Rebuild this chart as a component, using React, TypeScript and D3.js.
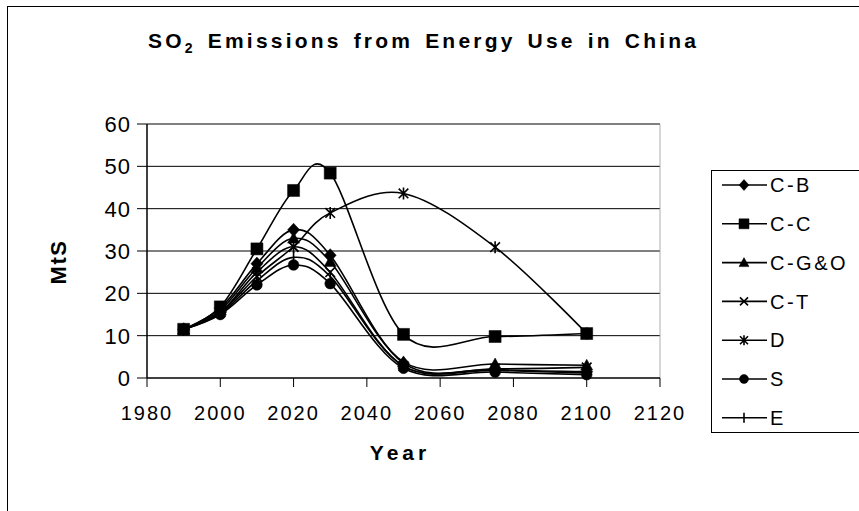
import React from "react";
import * as d3 from "d3";

const years = [1990, 2000, 2010, 2020, 2030, 2050, 2075, 2100];
const seriesNames = ["C-B", "C-C", "C-G&O", "C-T", "D", "S", "E"];
const cB = [11.5, 16.5, 27, 35, 29, 3.5, 2, 1.5];
const cC = [11.5, 16.8, 30.5, 44.3, 48.4, 10.3, 9.8, 10.5];
const cGO = [11.5, 16, 26, 33, 27.5, 3.8, 3.3, 3];
const cT = [11.5, 15.5, 25, 31, 25, 2.8, 2.2, 2.5];
const dS = [11.5, 15.5, 24, 31, 39, 43.6, 30.9, 10.5];
const sS = [11.5, 15, 22, 26.7, 22.3, 2.3, 1.4, 0.8];
const eS = [11.5, 15.2, 23, 28.5, 24, 2.8, 1.8, 1.2];
const seriesValues = [cB, cC, cGO, cT, dS, sS, eS];
const markers = ["diamond", "square", "triangle", "x", "asterisk", "circle", "plus"];
const xTicks = [1980, 2000, 2020, 2040, 2060, 2080, 2100, 2120];
const yTicks = [0, 10, 20, 30, 40, 50, 60];

const FONT = "'Liberation Sans', Arial, Helvetica, sans-serif";

function markerPath(kind: string, s: number): string {
  const h = s / 2;
  const p = d3.path();
  if (kind === "diamond") {
    p.moveTo(0, -h * 1.1); p.lineTo(h, 0); p.lineTo(0, h * 1.1); p.lineTo(-h, 0); p.closePath();
  } else if (kind === "square") {
    p.rect(-h, -h, s, s);
  } else if (kind === "triangle") {
    p.moveTo(0, -h); p.lineTo(h, h * 0.8); p.lineTo(-h, h * 0.8); p.closePath();
  } else if (kind === "circle") {
    p.arc(0, 0, h * 0.9, 0, Math.PI * 2);
  } else if (kind === "x") {
    const a = h * 0.8;
    p.moveTo(-a, -a); p.lineTo(a, a); p.moveTo(a, -a); p.lineTo(-a, a);
  } else if (kind === "asterisk") {
    const a = h * 0.8;
    p.moveTo(-a, -a); p.lineTo(a, a); p.moveTo(a, -a); p.lineTo(-a, a);
    p.moveTo(0, -h); p.lineTo(0, h);
  } else if (kind === "plus") {
    p.moveTo(0, -h); p.lineTo(0, h);
  }
  return p.toString();
}

function Marker({ kind, x, y, s }: { kind: string; x: number; y: number; s: number }) {
  const filled = kind === "diamond" || kind === "square" || kind === "triangle" || kind === "circle";
  return (
    <path
      d={markerPath(kind, s)}
      transform={`translate(${x},${y})`}
      fill={filled ? "#000" : "none"}
      stroke="#000"
      strokeWidth={filled ? 0.5 : 1.6}
    />
  );
}

export default function App() {
  const x = d3.scaleLinear().domain([1980, 2120]).range([147, 660]);
  const y = d3.scaleLinear().domain([0, 60]).range([378, 124]);
  const line = d3
    .line<number>()
    .x((_, i) => x(years[i]))
    .y((v) => y(v))
    .curve(d3.curveCardinal.tension(0));

  const legendX = 711;
  const legendY0 = 185;
  const legendStep = 38.8;

  return (
    <svg
      width={859}
      height={511}
      style={{ position: "absolute", left: 0, top: 0, background: "#fff" }}
      fontFamily={FONT}
    >
      <rect x={0} y={0} width={859} height={511} fill="#fff" />
      <rect x={7.5} y={6.5} width={900} height={600} fill="none" stroke="#000" strokeWidth={1} />

      <text x={148} y={48} fontSize={21} fontWeight="bold" letterSpacing={3.2} wordSpacing={3}>
        SO
        <tspan fontSize={14} dy={5}>2</tspan>
        <tspan dy={-5}> Emissions from Energy Use in China</tspan>
      </text>

      {yTicks.filter((t) => t > 0).map((t) => (
        <line key={"g" + t} x1={x(1980)} x2={x(2120)} y1={y(t)} y2={y(t)} stroke="#000" strokeWidth={1} />
      ))}
      <line x1={x(2120)} x2={x(2120)} y1={y(60)} y2={y(0)} stroke="#999" strokeWidth={0.8} />

      <line x1={x(1980)} x2={x(2120)} y1={y(0)} y2={y(0)} stroke="#000" strokeWidth={1.5} />
      <line x1={x(1980)} x2={x(1980)} y1={y(60)} y2={y(0)} stroke="#000" strokeWidth={1.5} />
      {yTicks.map((t) => (
        <g key={"yt" + t}>
          <line x1={x(1980) - 10} x2={x(1980)} y1={y(t)} y2={y(t)} stroke="#000" strokeWidth={1} />
          <text x={131} y={y(t)} dy="0.36em" textAnchor="end" fontSize={22} letterSpacing={1}>
            {t}
          </text>
        </g>
      ))}
      {xTicks.map((t) => (
        <g key={"xt" + t}>
          <line x1={x(t)} x2={x(t)} y1={y(0)} y2={y(0) + 9} stroke="#000" strokeWidth={1} />
          <text x={x(t)} y={420} textAnchor="middle" fontSize={20} letterSpacing={2}>
            {t}
          </text>
        </g>
      ))}

      <text
        transform={`translate(66,262) rotate(-90)`}
        textAnchor="middle"
        fontSize={22}
        fontWeight="bold"
        letterSpacing={1.5}
      >
        MtS
      </text>
      <text x={400} y={460} textAnchor="middle" fontSize={21} fontWeight="bold" letterSpacing={4}>
        Year
      </text>

      {seriesValues.map((vals, si) => (
        <g key={"s" + si}>
          <path d={line(vals) || ""} fill="none" stroke="#000" strokeWidth={1.6} />
          {vals.map((v, i) => (
            <Marker key={i} kind={markers[si]} x={x(years[i])} y={y(v)} s={12} />
          ))}
        </g>
      ))}

      <rect x={legendX + 0.5} y={170.5} width={300} height={262} fill="#fff" stroke="#000" strokeWidth={1} />
      {seriesNames.map((name, i) => {
        const cy = legendY0 + i * legendStep;
        return (
          <g key={"l" + name}>
            <line x1={722} x2={767} y1={cy} y2={cy} stroke="#000" strokeWidth={1.6} />
            <Marker kind={markers[i]} x={744} y={cy} s={10} />
            <text x={770} y={cy} dy="0.36em" fontSize={20} letterSpacing={2.5}>
              {name}
            </text>
          </g>
        );
      })}
    </svg>
  );
}
